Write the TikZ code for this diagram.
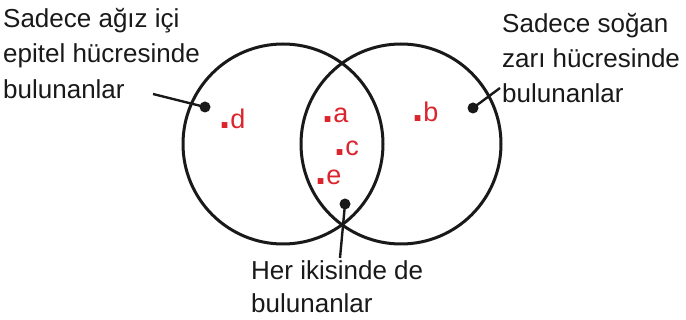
\documentclass[tikz,border=0pt]{standalone}
\usepackage{fontspec}
\setmainfont{Liberation Sans}
\definecolor{lblred}{RGB}{218,37,44}
\definecolor{ink}{RGB}{25,25,25}
\newcommand{\lbl}[1]{{\fontsize{40}{40}\selectfont\bfseries.}#1}
\begin{document}
\begin{tikzpicture}[x=1pt,y=-1pt,
  txt/.style={anchor=base west,inner sep=0pt,font=\fontsize{26}{26}\selectfont,text=ink},
  lab/.style={anchor=base west,inner sep=0pt,font=\fontsize{27}{27}\selectfont,text=lblred},
  ring/.style={draw=ink,line width=3pt},
  pin/.style={draw=ink,line width=2.4pt},
  pindot/.style={fill=ink,circle,inner sep=0pt,minimum size=11pt}]
\useasboundingbox (0,0) rectangle (686,320);
\draw[ring] (283,144) circle (100);
\draw[ring] (401,144) circle (100);
% texts
\node[txt] (l1) at (3,28) {Sadece ağız içi};
\node[txt] (l2) at (3,63) {epitel hücresinde};
\node[txt] (l3) at (3,99) {bulunanlar};
\node[txt] (r1) at (502,33) {Sadece soğan};
\node[txt] (r2) at (502,68) {zarı hücresinde};
\node[txt] (r3) at (502,103) {bulunanlar};
\node[txt] (b1) at (251,280) {Her ikisinde de};
\node[txt] (b2) at (251,313) {bulunanlar};
% pointer dots
\node[pindot] (pl) at (205,107) {};
\node[pindot] (pr) at (473,108) {};
\node[pindot] (pb) at (345,204) {};
\coordinate (el) at (153,94);
\coordinate (er) at (500,88);
\coordinate (eb) at (340,258);
\draw[pin] (el) -- (pl.center);
\draw[pin] (er) -- (pr.center);
\draw[pin] (eb) -- (pb.center);
% labels
\node[lab] (d) at (219,129) {\lbl{d}};
\node[lab] (a) at (322,123) {\lbl{a}};
\node[lab] (c) at (334,156) {\lbl{c}};
\node[lab] (e) at (315,185) {\lbl{e}};
\node[lab] (b) at (412,122) {\lbl{b}};
\end{tikzpicture}
\end{document}
